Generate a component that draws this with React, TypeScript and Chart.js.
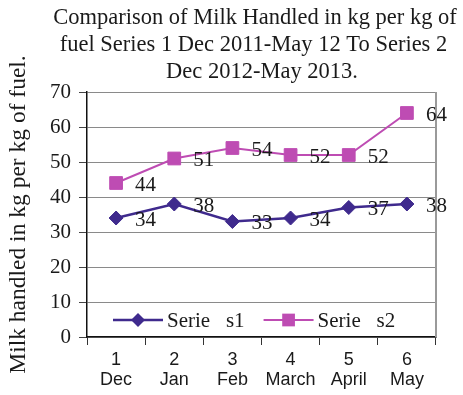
import React, { useEffect, useRef } from "react";
import { Chart, registerables } from "chart.js";

Chart.register(...registerables);

const TITLE_LINES = [
  "Comparison of Milk Handled in kg per kg of",
  "fuel Series 1 Dec 2011-May 12 To Series 2",
  "Dec 2012-May 2013.",
];
const MONTH_NUMBERS = ["1", "2", "3", "4", "5", "6"];
const MONTHS = ["Dec", "Jan", "Feb", "March", "April", "May"];
const SERIES1_LABEL = "Serie   s1";
const SERIES2_LABEL = "Serie   s2";
const SERIES1 = [34, 38, 33, 34, 37, 38];
const SERIES2 = [44, 51, 54, 52, 52, 64];
const Y_TITLE = "Milk handled in kg per kg of fuel.";
const Y_MIN = 0;
const Y_MAX = 70;
const Y_STEP = 10;

const SERIF = '"Liberation Serif", "Times New Roman", serif';
const SANS = '"Liberation Sans", Arial, sans-serif';
const TEXT = "#1a1a1a";
const C1 = "#3F2A8D";
const C2 = "#BE4CB3";

function drawMarker(ctx: CanvasRenderingContext2D, style: string, x: number, y: number, r: number, color: string) {
  ctx.save();
  ctx.fillStyle = color;
  ctx.beginPath();
  if (style === "rectRot") {
    ctx.moveTo(x, y - r);
    ctx.lineTo(x + r, y);
    ctx.lineTo(x, y + r);
    ctx.lineTo(x - r, y);
    ctx.closePath();
  } else {
    const h = r * Math.SQRT1_2;
    ctx.rect(x - h, y - h, 2 * h, 2 * h);
  }
  ctx.fill();
  ctx.restore();
}

const titlePlugin = {
  id: "customTitle",
  afterDraw(chart: any) {
    const ctx = chart.ctx as CanvasRenderingContext2D;
    const centers = [255, 253.5, 262];
    const baselines = [23.5, 51, 78];
    ctx.save();
    ctx.font = `22.5px ${SERIF}`;
    ctx.fillStyle = TEXT;
    ctx.textAlign = "center";
    ctx.textBaseline = "alphabetic";
    TITLE_LINES.forEach((line, i) => ctx.fillText(line, centers[i], baselines[i]));
    ctx.restore();
  },
};

const framePlugin = {
  id: "frame",
  beforeDatasetsDraw(chart: any) {
    const { ctx, chartArea } = chart;
    ctx.save();
    ctx.strokeStyle = "#9a9a9a";
    ctx.lineWidth = 2;
    ctx.beginPath();
    ctx.moveTo(chartArea.right, chartArea.top);
    ctx.lineTo(chartArea.right, chartArea.bottom);
    ctx.stroke();
    ctx.restore();
  },
};

const labelsPlugin = {
  id: "valueLabels",
  afterDatasetsDraw(chart: any) {
    const ctx = chart.ctx as CanvasRenderingContext2D;
    ctx.save();
    ctx.font = `21px ${SERIF}`;
    ctx.fillStyle = TEXT;
    ctx.textAlign = "left";
    ctx.textBaseline = "middle";
    chart.data.datasets.forEach((ds: any, i: number) => {
      const meta = chart.getDatasetMeta(i);
      meta.data.forEach((pt: any, j: number) => {
        ctx.fillText(String(ds.data[j]), pt.x + 19, pt.y + 2);
      });
    });
    ctx.restore();
  },
};

const legendPlugin = {
  id: "innerLegend",
  afterDatasetsDraw(chart: any) {
    const ctx = chart.ctx as CanvasRenderingContext2D;
    const { chartArea } = chart;
    const y = chartArea.bottom - 17;
    let x = chartArea.left + 26;
    ctx.save();
    ctx.font = `21px ${SERIF}`;
    ctx.textBaseline = "middle";
    ctx.textAlign = "left";
    chart.data.datasets.forEach((ds: any) => {
      ctx.strokeStyle = ds.borderColor;
      ctx.lineWidth = ds.borderWidth;
      ctx.beginPath();
      ctx.moveTo(x, y);
      ctx.lineTo(x + 50, y);
      ctx.stroke();
      drawMarker(ctx, ds.pointStyle, x + 25, y, ds.pointRadius, ds.borderColor);
      ctx.fillStyle = TEXT;
      ctx.fillText(ds.label, x + 54, y + 1);
      x += 54 + ctx.measureText(ds.label).width + 19;
    });
    ctx.restore();
  },
};

export default function App() {
  const ref = useRef<HTMLCanvasElement | null>(null);

  useEffect(() => {
    if (!ref.current) return;
    const chart = new Chart(ref.current, {
      type: "line",
      data: {
        labels: MONTH_NUMBERS.map((n, i) => [n, MONTHS[i]]),
        datasets: [
          {
            label: SERIES1_LABEL,
            data: SERIES1,
            borderColor: C1,
            backgroundColor: C1,
            borderWidth: 2.5,
            pointStyle: "rectRot",
            pointRadius: 7,
            pointBorderWidth: 1,
            pointBackgroundColor: C1,
            pointBorderColor: C1,
            tension: 0,
          },
          {
            label: SERIES2_LABEL,
            data: SERIES2,
            borderColor: C2,
            backgroundColor: C2,
            borderWidth: 2,
            pointStyle: "rect",
            pointRadius: 9,
            pointBorderWidth: 1,
            pointBackgroundColor: C2,
            pointBorderColor: C2,
            tension: 0,
          },
        ],
      },
      options: {
        responsive: false,
        animation: false,
        devicePixelRatio: 1,
        layout: { padding: { top: 92, right: 27, bottom: 0, left: 0 } },
        plugins: {
          legend: { display: false },
          tooltip: { enabled: false },
          title: { display: false },
        },
        scales: {
          x: {
            offset: true,
            grid: {
              offset: true,
              drawOnChartArea: false,
              drawTicks: true,
              tickLength: 8,
              tickColor: "#333",
              lineWidth: 1,
            },
            border: { color: "#111", width: 1.5 },
            ticks: {
              font: { family: SANS, size: 18, lineHeight: 1.1 },
              color: TEXT,
              padding: 5,
              maxRotation: 0,
              autoSkip: false,
            },
            afterFit: (s: any) => {
              s.height = 58;
            },
          },
          y: {
            min: Y_MIN,
            max: Y_MAX,
            ticks: {
              stepSize: Y_STEP,
              font: { family: SERIF, size: 21 },
              color: TEXT,
              padding: 8,
            },
            grid: { color: "#8a8a8a", lineWidth: 1, tickLength: 8, tickColor: "#444" },
            border: { color: "#111", width: 1.5 },
            title: {
              display: true,
              text: Y_TITLE,
              font: { family: SERIF, size: 23.5 },
              color: TEXT,
              padding: { top: 5, bottom: 0 },
            },
            afterFit: (s: any) => {
              s.width = 87;
            },
          },
        },
      },
      plugins: [framePlugin, labelsPlugin, legendPlugin, titlePlugin],
    } as any);
    return () => chart.destroy();
  }, []);

  return (
    <div style={{ position: "fixed", left: 0, top: 0, width: 463, height: 395, background: "#fff" }}>
      <canvas ref={ref} width={463} height={395} style={{ display: "block", width: 463, height: 395 }} />
    </div>
  );
}
